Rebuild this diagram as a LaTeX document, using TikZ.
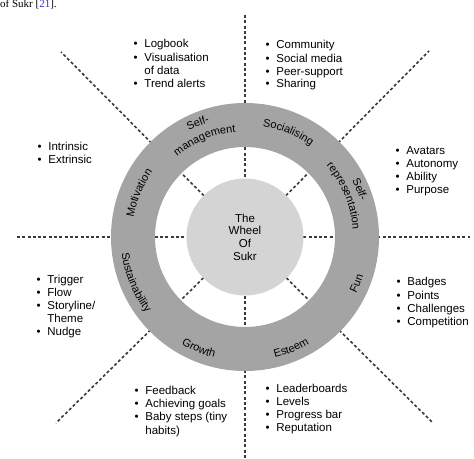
\documentclass[tikz,border=0pt]{standalone}
\usepackage{fontspec}
\setmainfont{Liberation Sans}
\newfontfamily\capfont{Liberation Serif}
\usetikzlibrary{decorations.text}
\definecolor{ringgray}{HTML}{A4A4A4}
\definecolor{hubgray}{HTML}{D4D4D4}
\definecolor{linegray}{HTML}{3A3A3A}
\definecolor{refblue}{HTML}{3333CC}
\newcommand\rf{\fontsize{11}{13}\selectfont}
\newcommand\lf{\fontsize{11.5}{13}\selectfont}
% bullet line: name, bullet centre x (px), text x (px), baseline y (px), text
\newcommand\bl[5]{\node[bul] (#1b) at ({#2-2.5-245},{237-#4}) {\textbullet};
  \node[itm] (#1) at ({#3-0.8-245},{237-#4}) {#5};}
% continuation line: name, text x, baseline y, text
\newcommand\hl[4]{\node[itm] (#1) at ({#2-0.8-245},{237-#3}) {#4};}
\begin{document}
\begin{tikzpicture}[x=1pt,y=1pt,
  divider/.style={draw=linegray, line width=1.6pt, dash pattern=on 3pt off 2.3pt},
  bul/.style={anchor=base west, inner sep=0pt, font=\lf},
  itm/.style={anchor=base west, inner sep=0pt, font=\lf},
  ringlabel/.style={decorate, decoration={text along path, text align=center, text={|\rf|#1}}}
]
\useasboundingbox (-245,-221) rectangle (229,237);
% caption fragment
\node[anchor=base west, inner sep=0pt, font=\capfont\fontsize{11}{13}\selectfont] (cap) at (-245,229) {of Sukr [\textcolor{refblue}{21}].};
% dividers
\coordinate (c) at (0,0);
\coordinate (vt) at (0,222);
\coordinate (vb) at (0,-221);
\coordinate (hL) at (-228,0);
\coordinate (hR) at (225,0);
\coordinate (dtl) at (-184,185);
\coordinate (dtr) at (184,186);
\coordinate (dbl) at (-189,-186);
\coordinate (dbr) at (188,-186);
\draw[divider] (vt) -- (vb);
\draw[divider] (hL) -- (hR);
\draw[divider] (c) -- (dtl);
\draw[divider] (c) -- (dtr);
\draw[divider] (c) -- (dbl);
\draw[divider] (c) -- (dbr);
% ring
\fill[ringgray, even odd rule] (c) circle[radius=134] (c) circle[radius=90];
% hub
\node[circle, fill=hubgray, minimum size=117pt, inner sep=0pt, align=center,
  font=\fontsize{11.5}{12.6}\selectfont] (hub) at (c) {The\\Wheel\\Of\\Sukr};
% ring labels (upper half, clockwise)
\path[ringlabel=Socialising] (90:112) arc[start angle=90, end angle=45, radius=112];
\path[ringlabel=Motivation] (180:113) arc[start angle=180, end angle=135, radius=113];
\path[ringlabel=Self-] (135:120) arc[start angle=135, end angle=90, radius=120];
\path[ringlabel=management] (135:105.5) arc[start angle=135, end angle=90, radius=105.5];
\path[ringlabel=Self-] (45:121) arc[start angle=45, end angle=0, radius=121];
\path[ringlabel=representation] (45:108) arc[start angle=45, end angle=0, radius=108];
% ring labels (lower half, counter-clockwise)
\path[ringlabel=Fun] (-45:124.5) arc[start angle=-45, end angle=0, radius=124.5];
\path[ringlabel=Esteem] (-90:124.5) arc[start angle=-90, end angle=-45, radius=124.5];
\path[ringlabel=Growth] (-135:124.5) arc[start angle=-135, end angle=-90, radius=124.5];
\path[ringlabel=Sustainability] (-180:124.5) arc[start angle=-180, end angle=-135, radius=124.5];
% lists
\bl{lg}{136}{145}{48}{Logbook}
\bl{vd}{136}{145}{61.3}{Visualisation}
\hl{od}{145}{74.7}{of data}
\bl{ta}{136}{145}{87.3}{Trend alerts}
\bl{cm}{268}{277}{49}{Community}
\bl{sm}{268}{277}{62.3}{Social media}
\bl{ps}{268}{277}{75.7}{Peer-support}
\bl{sh}{268}{277}{88}{Sharing}
\bl{in}{40}{49}{150}{Intrinsic}
\bl{ex}{40}{49}{163}{Extrinsic}
\bl{av}{398}{407}{154}{Avatars}
\bl{au}{398}{407}{167.3}{Autonomy}
\bl{ab}{398}{407}{180.7}{Ability}
\bl{pu}{398}{407}{193.3}{Purpose}
\bl{tr}{39}{48}{283}{Trigger}
\bl{fl}{39}{48}{296.1}{Flow}
\bl{st}{39}{48}{309.2}{Storyline/}
\hl{th}{48}{322.3}{Theme}
\bl{nu}{39}{48}{335.4}{Nudge}
\bl{ba}{399}{408}{285.7}{Badges}
\bl{po}{399}{408}{299}{Points}
\bl{ch}{399}{408}{312}{Challenges}
\bl{co}{399}{408}{325}{Competition}
\bl{fb}{137}{146}{394}{Feedback}
\bl{ag}{137}{146}{407.3}{Achieving goals}
\bl{bs}{137}{146}{420.7}{Baby steps (tiny}
\hl{hb}{146}{434}{habits)}
\bl{lb}{268}{277}{392.3}{Leaderboards}
\bl{le}{268}{277}{405.7}{Levels}
\bl{pb}{268}{277}{418.3}{Progress bar}
\bl{re}{268}{277}{431.7}{Reputation}
\end{tikzpicture}
\end{document}
